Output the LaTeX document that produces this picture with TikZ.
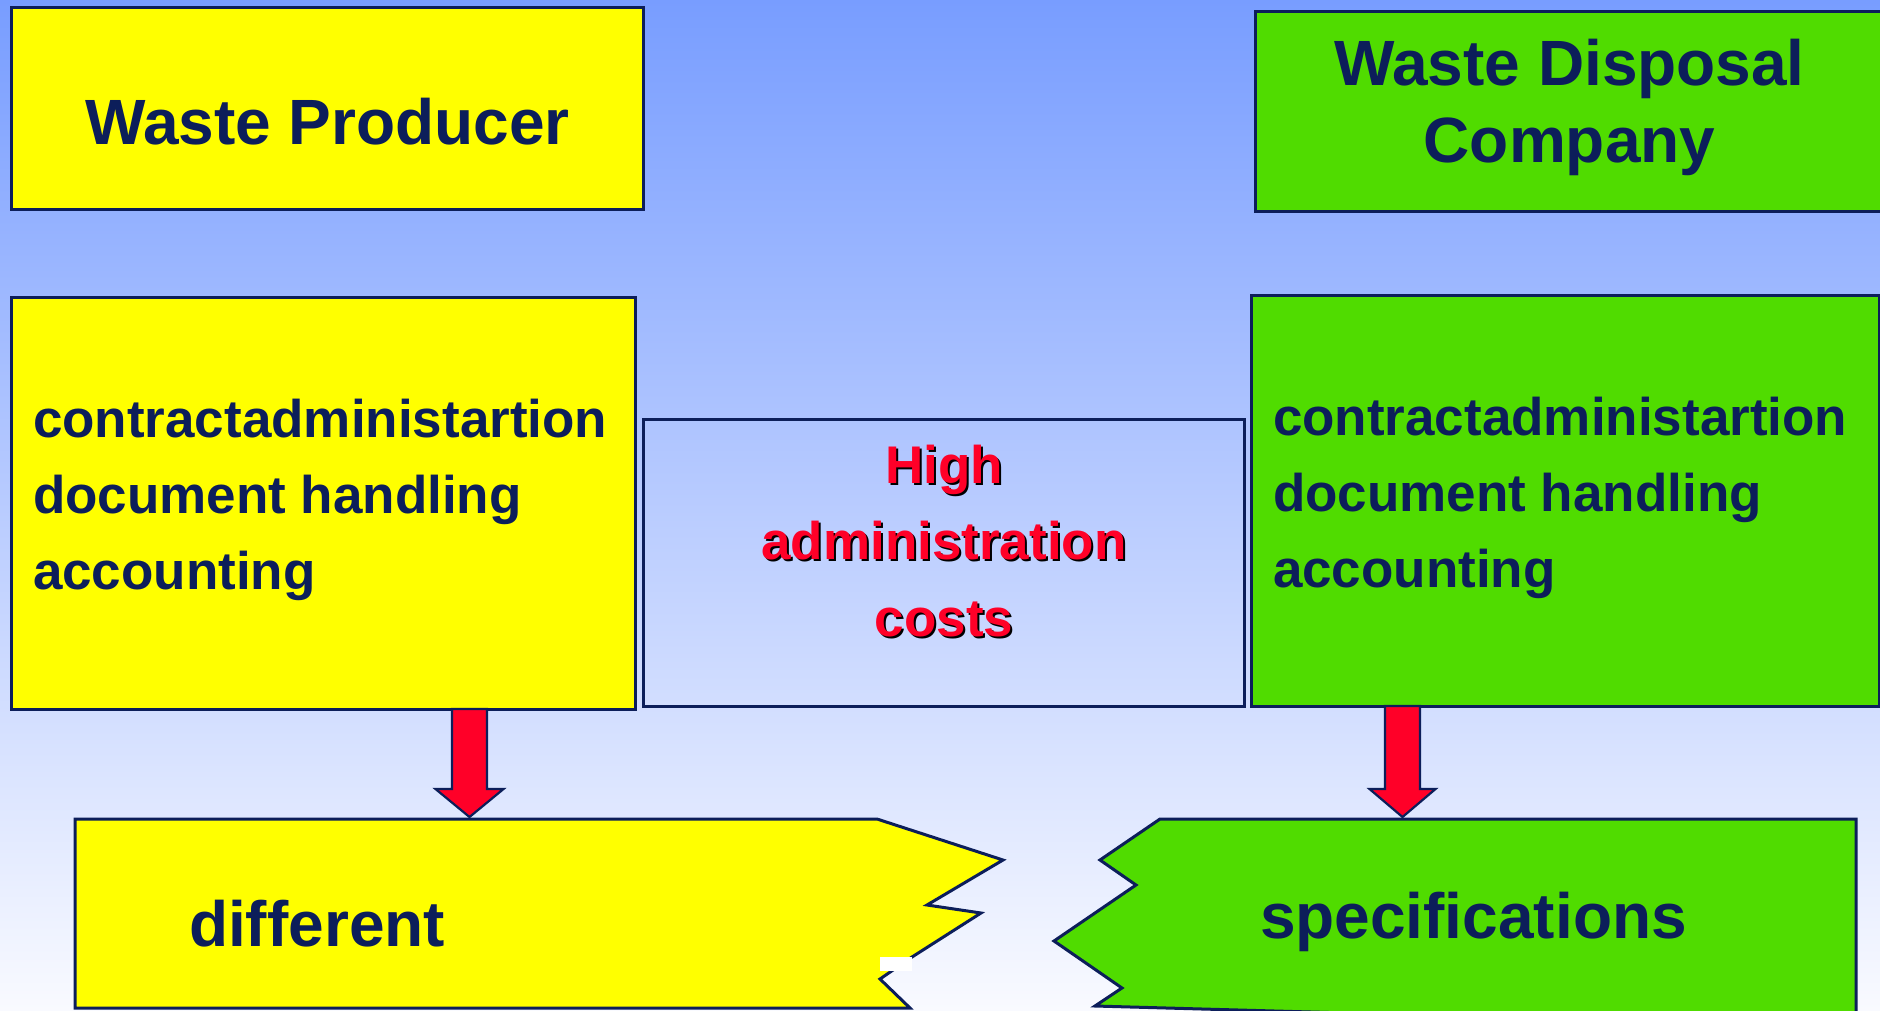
\documentclass[tikz,border=0pt]{standalone}
\usepackage{fontspec}
\setmainfont{Liberation Sans}
\usetikzlibrary{calc}
\definecolor{navy}{RGB}{12,30,90}
\definecolor{yel}{RGB}{255,255,0}
\definecolor{grn}{RGB}{80,220,0}
\definecolor{redc}{RGB}{255,0,40}
\definecolor{bgtop}{RGB}{120,157,255}
\definecolor{bgbot}{RGB}{249,250,255}
\begin{document}
\begin{tikzpicture}[x=1pt,y=-1pt,
  box/.style={draw=navy, line width=3pt, inner sep=0pt, outer sep=0pt, anchor=north west},
  shapeline/.style={draw=navy, line width=3pt, line join=miter},
  big/.style={font=\bfseries\fontsize{64}{77}\selectfont, text=navy, inner sep=0pt, outer sep=0pt},
  mid/.style={font=\bfseries\fontsize{53}{76}\selectfont, text=navy, inner sep=0pt, outer sep=0pt, align=left},
  redtext/.style={font=\bfseries\fontsize{53}{76.5}\selectfont, inner sep=0pt, outer sep=0pt, align=center},
  blockarrow/.style={fill=redc, draw=navy, line width=2.2pt, line join=miter}]
\useasboundingbox (0,0) rectangle (1880,1010);
\shade[top color=bgtop, bottom color=bgbot] (0,0) rectangle (1880,1010);

% top boxes
\node[box, fill=yel, minimum width=632pt, minimum height=202pt] (wp) at (11,7) {};
\node[box, fill=grn, minimum width=630pt, minimum height=200pt] (wd) at (1255,11) {};
\node[big, anchor=base] (wpt) at (327.5,144) {Waste Producer};
\node[big, align=center] (wdt) at (1569.5,107.3) {Waste Disposal\\Company};

% middle boxes
\node[box, fill=yel, minimum width=624pt, minimum height=412pt] (lb) at (11,297) {};
\node[box, fill=grn, minimum width=628pt, minimum height=411pt] (rb) at (1251,295) {};
\node[box, minimum width=601pt, minimum height=287pt] (cb) at (643,419) {};
\node[mid, anchor=west] (lbt) at (33,499.6) {contractadministartion\\document handling\\accounting};
\node[mid, anchor=west] (rbt) at (1273,497.5) {contractadministartion\\document handling\\accounting};
\node[redtext, text=black] (cbs) at (946,543) {High\\administration\\costs};
\node[redtext, text=redc] (cbt) at (944,541) {High\\administration\\costs};

% bottom torn shapes
\path[shapeline, fill=yel] (75,819) -- (877,819) -- (1003,860) -- (927,905) -- (981,913)
  -- (912,957) -- (880,979) -- (910,1008) -- (75,1008) -- cycle;
\fill[white] (880,957) rectangle (912,971);
\path[shapeline, fill=grn] (1160,819) -- (1856,819) -- (1856,1027) -- (1202,1009)
  -- (1095,1006) -- (1122,988) -- (1054,941) -- (1136,885) -- (1100,860) -- cycle;
\node[big, anchor=base west] (dft) at (189,946) {different};
\node[big, anchor=base west] (spt) at (1260,938) {specifications};

% arrows
\coordinate (la) at ($(lb.south west)+(458.5,0)$);
\coordinate (lt) at (469.5,817);
\coordinate (ra) at ($(rb.south west)+(151.5,0)$);
\coordinate (rt) at (1402.5,817);
\draw[blockarrow] ($(la)+(-17.5,0)$) -- ($(la)+(17.5,0)$) -- ($(lt)+(17.5,-28)$)
  -- ($(lt)+(34,-28)$) -- (lt) -- ($(lt)+(-34,-28)$) -- ($(lt)+(-17.5,-28)$) -- cycle;
\draw[blockarrow] ($(ra)+(-17.5,0)$) -- ($(ra)+(17.5,0)$) -- ($(rt)+(17.5,-28)$)
  -- ($(rt)+(33,-28)$) -- (rt) -- ($(rt)+(-33,-28)$) -- ($(rt)+(-17.5,-28)$) -- cycle;
\end{tikzpicture}
\end{document}
